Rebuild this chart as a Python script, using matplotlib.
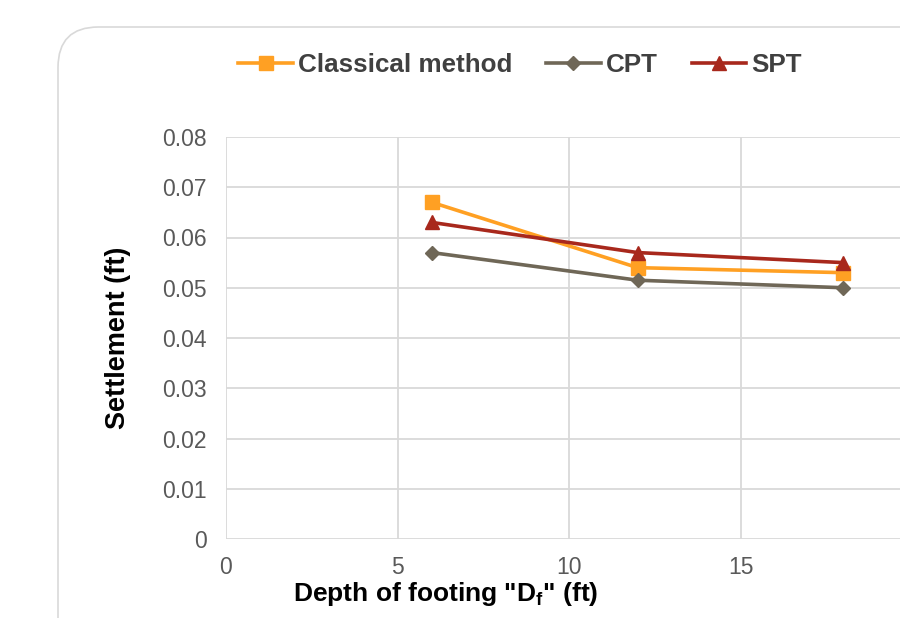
import matplotlib.pyplot as plt
from matplotlib.patches import FancyBboxPatch

plt.rcParams['font.family'] = ['Liberation Sans', 'DejaVu Sans']
plt.rcParams['mathtext.fontset'] = 'custom'
plt.rcParams['mathtext.bf'] = 'Liberation Sans:bold'
plt.rcParams['mathtext.rm'] = 'Liberation Sans'

# data
depth = [6, 12, 18]
classical = [0.067, 0.054, 0.053]
cpt = [0.057, 0.0515, 0.050]
spt = [0.063, 0.057, 0.055]

x_ticks = [0, 5, 10, 15, 20]
y_ticks = [0, 0.01, 0.02, 0.03, 0.04, 0.05, 0.06, 0.07, 0.08]

fig = plt.figure(figsize=(9, 6.18), dpi=100)

# rounded chart frame (cut off on the right and bottom)
frame = FancyBboxPatch((58 / 900, -0.2), 1.0, 1.2 - 27 / 618,
                       boxstyle='round,pad=0,rounding_size=0.045',
                       transform=fig.transFigure, fill=False,
                       edgecolor='#d9d9d9', linewidth=1.2,
                       mutation_aspect=900 / 618)
fig.patches.append(frame)

ax = fig.add_axes([226 / 900, 79 / 618, 686 / 900, 402 / 618])

ax.plot(depth, classical, color='#ffa023', marker='s', markersize=10,
        linewidth=2.6, label='Classical method')
ax.plot(depth, cpt, color='#6f6757', marker='D', markersize=7.5,
        linewidth=2.6, label='CPT')
ax.plot(depth, spt, color='#a8281c', marker='^', markersize=10.5,
        linewidth=2.6, label='SPT')

ax.set_xlim(0, 20)
ax.set_ylim(0, 0.08)
ax.set_xticks(x_ticks)
ax.set_yticks(y_ticks)
ax.set_xticklabels([str(v) for v in x_ticks])
ax.set_yticklabels(['0'] + ['%.2f' % v for v in y_ticks[1:]])
ax.grid(True, color='#d9d9d9', linewidth=1.3)
ax.set_axisbelow(True)
for s in ax.spines.values():
    s.set_visible(False)
ax.tick_params(length=0, labelsize=16.5, labelcolor='#595959')
ax.tick_params(axis='y', pad=14)
ax.tick_params(axis='x', pad=12)

ax.set_xlabel('Depth of footing "D$_\\mathbf{f}$" (ft)', fontsize=19,
              fontweight='bold')
ax.xaxis.set_label_coords((446 - 226) / 686, -0.103)
ax.set_ylabel('Settlement (ft)', fontsize=19.5, fontweight='bold',
              labelpad=22)

fig.legend(loc='center', bbox_to_anchor=(520 / 900, 1 - 65 / 618),
           ncol=3, frameon=False, handlelength=2.1,
           columnspacing=1.3, handletextpad=0.2,
           prop={'weight': 'bold', 'size': 18.7})
for t in fig.legends[0].get_texts():
    t.set_color('#404040')

fig.savefig('out.png', dpi=100)
